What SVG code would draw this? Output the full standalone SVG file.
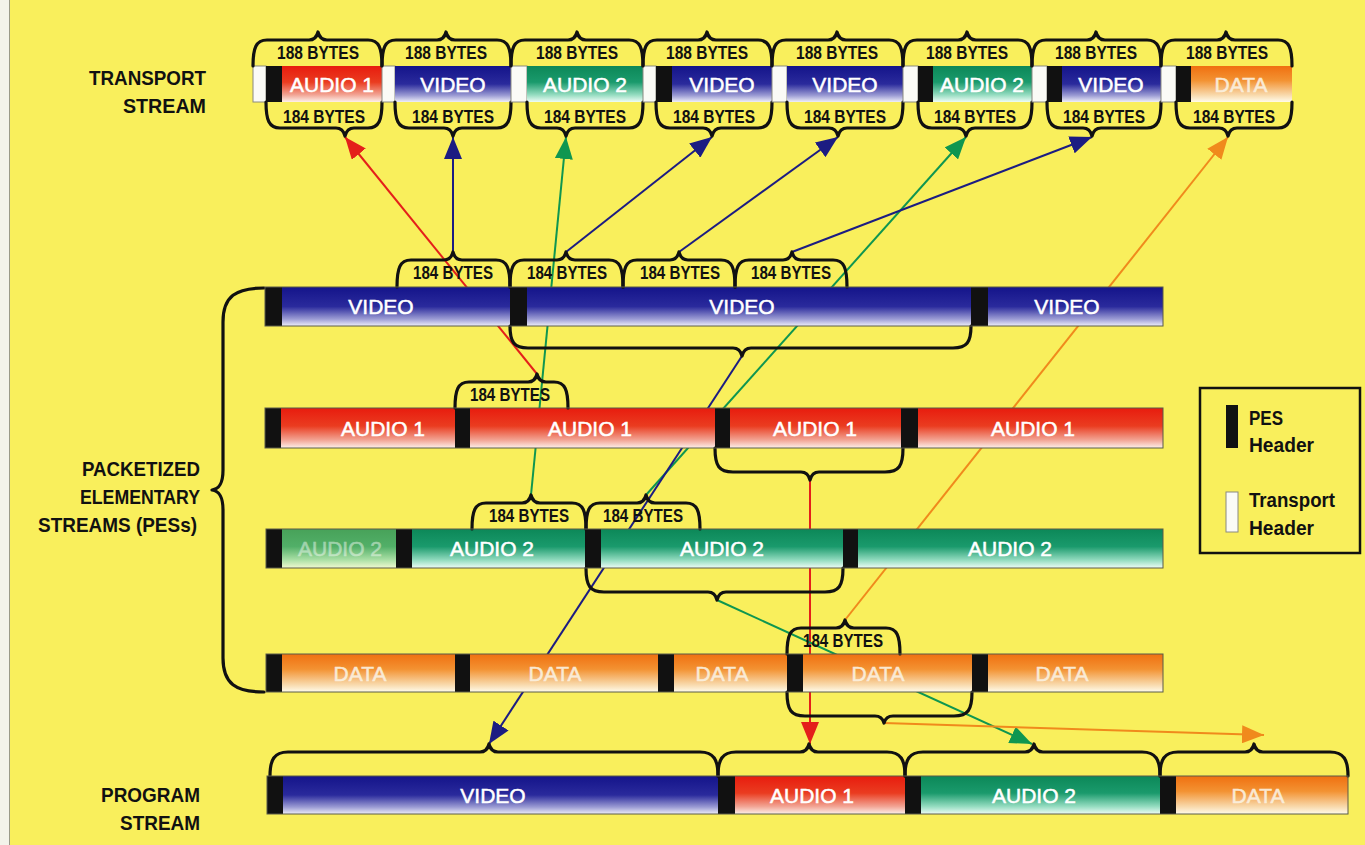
<svg xmlns="http://www.w3.org/2000/svg" width="1365" height="845" viewBox="0 0 1365 845">
<defs>
<linearGradient id="gV" x1="0" y1="0" x2="0" y2="1"><stop offset="0" stop-color="#14148a"/><stop offset="0.5" stop-color="#2a2a9c"/><stop offset="0.82" stop-color="#9c9cd4"/><stop offset="1" stop-color="#eeeef8"/></linearGradient>
<linearGradient id="gR" x1="0" y1="0" x2="0" y2="1"><stop offset="0" stop-color="#e81c0e"/><stop offset="0.45" stop-color="#ea3c20"/><stop offset="0.8" stop-color="#f2a494"/><stop offset="1" stop-color="#fdf0ea"/></linearGradient>
<linearGradient id="gG" x1="0" y1="0" x2="0" y2="1"><stop offset="0" stop-color="#0c8858"/><stop offset="0.45" stop-color="#1a9a6c"/><stop offset="0.8" stop-color="#94dcc0"/><stop offset="1" stop-color="#eefcf6"/></linearGradient>
<linearGradient id="gO" x1="0" y1="0" x2="0" y2="1"><stop offset="0" stop-color="#f07010"/><stop offset="0.4" stop-color="#f39232"/><stop offset="0.8" stop-color="#f8d8aa"/><stop offset="1" stop-color="#fffbea"/></linearGradient>
<marker id="mN" viewBox="0 0 10 10" refX="10" refY="5" markerWidth="22" markerHeight="18" markerUnits="userSpaceOnUse" orient="auto" preserveAspectRatio="none"><path d="M0,0 L10,5 L0,10 z" fill="#1c1c82"/></marker>
<marker id="mR" viewBox="0 0 10 10" refX="10" refY="5" markerWidth="22" markerHeight="18" markerUnits="userSpaceOnUse" orient="auto" preserveAspectRatio="none"><path d="M0,0 L10,5 L0,10 z" fill="#e4201a"/></marker>
<marker id="mG" viewBox="0 0 10 10" refX="10" refY="5" markerWidth="22" markerHeight="18" markerUnits="userSpaceOnUse" orient="auto" preserveAspectRatio="none"><path d="M0,0 L10,5 L0,10 z" fill="#0f9650"/></marker>
<marker id="mO" viewBox="0 0 10 10" refX="10" refY="5" markerWidth="22" markerHeight="18" markerUnits="userSpaceOnUse" orient="auto" preserveAspectRatio="none"><path d="M0,0 L10,5 L0,10 z" fill="#f08a1c"/></marker>
</defs>
<style>
.hdr{fill:#111}
.th{fill:#fbfbf6;stroke:#8a8a80;stroke-width:1}
.ol{fill:none;stroke:#5a5a48;stroke-width:1}
.v{fill:url(#gV)}.r{fill:url(#gR)}.g{fill:url(#gG)}.o{fill:url(#gO)}
.br{fill:none;stroke:#111;stroke-width:3.2;stroke-linejoin:round;stroke-linecap:round}
.in{font-family:"Liberation Sans",Arial,sans-serif;font-size:21px;fill:#fff;stroke:#fff;stroke-width:0.5;text-anchor:middle}
.dt{fill:#fbf2e2;stroke:#fbf2e2;opacity:0.9}
.bt{font-family:"Liberation Sans",Arial,sans-serif;font-weight:bold;font-size:18px;fill:#111;text-anchor:middle}
.lb{font-family:"Liberation Sans",Arial,sans-serif;font-weight:bold;font-size:21px;fill:#111;text-anchor:end}
.lg{font-family:"Liberation Sans",Arial,sans-serif;font-weight:bold;font-size:20px;fill:#111}
.cn{fill:none;stroke-width:2}
</style>
<rect x="0" y="0" width="1365" height="845" fill="#f9ef5c"/>
<rect x="0" y="0" width="9" height="845" fill="#f3f3ea"/>
<line x1="9.5" y1="0" x2="9.5" y2="845" stroke="#9a9a88" stroke-width="1"/>

<g id="connectors">
<path class="cn" stroke="#e4201a" d="M537,374 L345,137" marker-end="url(#mR)"/>
<path class="cn" stroke="#1c1c82" d="M453,252 L453,137" marker-end="url(#mN)"/>
<path class="cn" stroke="#0f9650" d="M531,495 L566,137" marker-end="url(#mG)"/>
<path class="cn" stroke="#1c1c82" d="M566,252 L712,137" marker-end="url(#mN)"/>
<path class="cn" stroke="#1c1c82" d="M679,252 L838,137" marker-end="url(#mN)"/>
<path class="cn" stroke="#0f9650" d="M646,495 L966,137" marker-end="url(#mG)"/>
<path class="cn" stroke="#1c1c82" d="M792,252 L1092,137" marker-end="url(#mN)"/>
<path class="cn" stroke="#f08a1c" d="M845,620 L1228,137" marker-end="url(#mO)"/>
<path class="cn" stroke="#1c1c82" d="M742,356 L489,744" marker-end="url(#mN)"/>
<path class="cn" stroke="#e4201a" d="M810,480 L810,744" marker-end="url(#mR)"/>
<path class="cn" stroke="#0f9650" d="M717,600 L1032,744" marker-end="url(#mG)"/>
<path class="cn" stroke="#f08a1c" d="M884,723 L1264,735" marker-end="url(#mO)"/>
</g>

<g id="labels">
<text class="lb" x="206" y="85" textLength="117" lengthAdjust="spacingAndGlyphs">TRANSPORT</text>
<text class="lb" x="206" y="113" textLength="83" lengthAdjust="spacingAndGlyphs">STREAM</text>
<text class="lb" x="200" y="476" textLength="118" lengthAdjust="spacingAndGlyphs">PACKETIZED</text>
<text class="lb" x="200" y="504" textLength="120" lengthAdjust="spacingAndGlyphs">ELEMENTARY</text>
<text class="lb" x="197" y="532" textLength="159" lengthAdjust="spacingAndGlyphs">STREAMS (PESs)</text>
<text class="lb" x="200" y="802" textLength="99" lengthAdjust="spacingAndGlyphs">PROGRAM</text>
<text class="lb" x="200" y="830" textLength="80" lengthAdjust="spacingAndGlyphs">STREAM</text>
<path class="br" stroke-width="4" d="M264 288 C236 288 223 296 223 322 L223 470 C223 484 219 489 212 490 C219 491 223 496 223 510 L223 658 C223 684 236 692 264 692"/>
</g>

<!-- TRANSPORT STREAM -->
<g id="ts1"><rect class="th" x="253" y="66" width="13" height="36"/><rect class="hdr" x="266" y="66" width="16" height="36"/><rect class="r" x="282" y="66" width="100" height="36"/><text class="in" x="332" y="91.5">AUDIO 1</text>
<path class="br" d="M253 66 C253 48 256 40 267 40 L309 40 Q316 40 318 32 Q320 40 327 40 L368 40 C379 40 382 48 382 66"/><text class="bt" x="318" y="59" textLength="82" lengthAdjust="spacingAndGlyphs">188 BYTES</text>
<path class="br" d="M266 102 C266 120 269 128 280 128 L336 128 Q343 128 345 136 Q347 128 354 128 L368 128 C379 128 382 120 382 102"/><text class="bt" x="324" y="123" textLength="82" lengthAdjust="spacingAndGlyphs">184 BYTES</text></g>
<g id="ts2"><rect class="th" x="382" y="66" width="13" height="36"/><rect class="v" x="395" y="66" width="116" height="36"/><text class="in" x="453" y="91.5">VIDEO</text>
<path class="br" d="M382 66 C382 48 385 40 396 40 L437 40 Q444 40 446 32 Q448 40 455 40 L497 40 C508 40 511 48 511 66"/><text class="bt" x="446" y="59" textLength="82" lengthAdjust="spacingAndGlyphs">188 BYTES</text>
<path class="br" d="M395 102 C395 120 398 128 409 128 L444 128 Q451 128 453 136 Q455 128 462 128 L497 128 C508 128 511 120 511 102"/><text class="bt" x="453" y="123" textLength="82" lengthAdjust="spacingAndGlyphs">184 BYTES</text></g>
<g id="ts3"><rect class="th" x="511" y="66" width="16" height="36"/><rect class="g" x="527" y="66" width="116" height="36"/><text class="in" x="585" y="91.5">AUDIO 2</text>
<path class="br" d="M511 66 C511 48 514 40 525 40 L568 40 Q575 40 577 32 Q579 40 586 40 L629 40 C640 40 643 48 643 66"/><text class="bt" x="577" y="59" textLength="82" lengthAdjust="spacingAndGlyphs">188 BYTES</text>
<path class="br" d="M527 102 C527 120 530 128 541 128 L557 128 Q564 128 566 136 Q568 128 575 128 L629 128 C640 128 643 120 643 102"/><text class="bt" x="585" y="123" textLength="82" lengthAdjust="spacingAndGlyphs">184 BYTES</text></g>
<g id="ts4"><rect class="th" x="643" y="66" width="13" height="36"/><rect class="hdr" x="656" y="66" width="16" height="36"/><rect class="v" x="672" y="66" width="100" height="36"/><text class="in" x="722" y="91.5">VIDEO</text>
<path class="br" d="M643 66 C643 48 646 40 657 40 L698 40 Q705 40 707 32 Q709 40 716 40 L758 40 C769 40 772 48 772 66"/><text class="bt" x="707" y="59" textLength="82" lengthAdjust="spacingAndGlyphs">188 BYTES</text>
<path class="br" d="M656 102 C656 120 659 128 670 128 L703 128 Q710 128 712 136 Q714 128 721 128 L758 128 C769 128 772 120 772 102"/><text class="bt" x="714" y="123" textLength="82" lengthAdjust="spacingAndGlyphs">184 BYTES</text></g>
<g id="ts5"><rect class="th" x="772" y="66" width="15" height="36"/><rect class="v" x="787" y="66" width="116" height="36"/><text class="in" x="845" y="91.5">VIDEO</text>
<path class="br" d="M772 66 C772 48 775 40 786 40 L828 40 Q835 40 837 32 Q839 40 846 40 L889 40 C900 40 903 48 903 66"/><text class="bt" x="837" y="59" textLength="82" lengthAdjust="spacingAndGlyphs">188 BYTES</text>
<path class="br" d="M787 102 C787 120 790 128 801 128 L829 128 Q836 128 838 136 Q840 128 847 128 L889 128 C900 128 903 120 903 102"/><text class="bt" x="845" y="123" textLength="82" lengthAdjust="spacingAndGlyphs">184 BYTES</text></g>
<g id="ts6"><rect class="th" x="903" y="66" width="15" height="36"/><rect class="hdr" x="918" y="66" width="15" height="36"/><rect class="g" x="933" y="66" width="99" height="36"/><text class="in" x="982" y="91.5">AUDIO 2</text>
<path class="br" d="M903 66 C903 48 906 40 917 40 L958 40 Q965 40 967 32 Q969 40 976 40 L1018 40 C1029 40 1032 48 1032 66"/><text class="bt" x="967" y="59" textLength="82" lengthAdjust="spacingAndGlyphs">188 BYTES</text>
<path class="br" d="M918 102 C918 120 921 128 932 128 L957 128 Q964 128 966 136 Q968 128 975 128 L1018 128 C1029 128 1032 120 1032 102"/><text class="bt" x="975" y="123" textLength="82" lengthAdjust="spacingAndGlyphs">184 BYTES</text></g>
<g id="ts7"><rect class="th" x="1032" y="66" width="15" height="36"/><rect class="hdr" x="1047" y="66" width="15" height="36"/><rect class="v" x="1062" y="66" width="99" height="36"/><text class="in" x="1111" y="91.5">VIDEO</text>
<path class="br" d="M1032 66 C1032 48 1035 40 1046 40 L1087 40 Q1094 40 1096 32 Q1098 40 1105 40 L1147 40 C1158 40 1161 48 1161 66"/><text class="bt" x="1096" y="59" textLength="82" lengthAdjust="spacingAndGlyphs">188 BYTES</text>
<path class="br" d="M1047 102 C1047 120 1050 128 1061 128 L1083 128 Q1090 128 1092 136 Q1094 128 1101 128 L1147 128 C1158 128 1161 120 1161 102"/><text class="bt" x="1104" y="123" textLength="82" lengthAdjust="spacingAndGlyphs">184 BYTES</text></g>
<g id="ts8"><rect class="th" x="1161" y="66" width="15" height="36"/><rect class="hdr" x="1176" y="66" width="15" height="36"/><rect class="o" x="1191" y="66" width="101" height="36"/><text class="in dt" x="1241" y="91.5">DATA</text>
<path class="br" d="M1161 66 C1161 48 1164 40 1175 40 L1217 40 Q1224 40 1226 32 Q1228 40 1235 40 L1278 40 C1289 40 1292 48 1292 66"/><text class="bt" x="1227" y="59" textLength="82" lengthAdjust="spacingAndGlyphs">188 BYTES</text>
<path class="br" d="M1176 102 C1176 120 1179 128 1190 128 L1219 128 Q1226 128 1228 136 Q1230 128 1237 128 L1278 128 C1289 128 1292 120 1292 102"/><text class="bt" x="1234" y="123" textLength="82" lengthAdjust="spacingAndGlyphs">184 BYTES</text></g>

<!-- PES VIDEO -->
<g id="pv1"><rect class="hdr" x="265" y="287" width="17" height="39"/><rect class="v" x="282" y="287" width="228" height="39"/><text class="in" x="381" y="314">VIDEO</text></g>
<g id="pv2"><rect class="hdr" x="510" y="287" width="17" height="39"/><rect class="v" x="527" y="287" width="444" height="39"/><text class="in" x="742" y="314">VIDEO</text>
<path class="br" d="M397 287 C397 268 400 260 411 260 L444 260 Q451 260 453 252 Q455 260 462 260 L496 260 C507 260 510 268 510 287"/><text class="bt" x="453" y="279" textLength="80" lengthAdjust="spacingAndGlyphs">184 BYTES</text>
<path class="br" d="M510 287 C510 268 513 260 524 260 L557 260 Q564 260 566 252 Q568 260 575 260 L609 260 C620 260 623 268 623 287"/><text class="bt" x="567" y="279" textLength="80" lengthAdjust="spacingAndGlyphs">184 BYTES</text>
<path class="br" d="M623 287 C623 268 626 260 637 260 L670 260 Q677 260 679 252 Q681 260 688 260 L721 260 C732 260 735 268 735 287"/><text class="bt" x="680" y="279" textLength="80" lengthAdjust="spacingAndGlyphs">184 BYTES</text>
<path class="br" d="M735 287 C735 268 738 260 749 260 L783 260 Q790 260 792 252 Q794 260 801 260 L833 260 C844 260 847 268 847 287"/><text class="bt" x="791" y="279" textLength="80" lengthAdjust="spacingAndGlyphs">184 BYTES</text>
<path class="br" d="M510 326 C510 342 514 348 528 348 L733 348 Q740 348 742 356 Q744 348 751 348 L953 348 C967 348 971 342 971 326"/></g>
<g id="pv3"><rect class="hdr" x="971" y="287" width="17" height="39"/><rect class="v" x="988" y="287" width="175" height="39"/><text class="in" x="1067" y="314">VIDEO</text></g>
<rect class="ol" x="265" y="287" width="898" height="39"/>

<!-- PES AUDIO 1 -->
<g id="pa1"><rect class="hdr" x="265" y="408" width="16" height="40"/><rect class="r" x="281" y="408" width="174" height="40"/><text class="in" x="383" y="435.5">AUDIO 1</text></g>
<g id="pa2"><rect class="hdr" x="455" y="408" width="15" height="40"/><rect class="r" x="470" y="408" width="245" height="40"/><text class="in" x="590" y="435.5">AUDIO 1</text>
<path class="br" d="M455 408 C455 390 458 382 469 382 L528 382 Q535 382 537 374 Q539 382 546 382 L554 382 C565 382 568 390 568 408"/><text class="bt" x="510" y="401" textLength="80" lengthAdjust="spacingAndGlyphs">184 BYTES</text></g>
<g id="pa3"><rect class="hdr" x="715" y="408" width="15" height="40"/><rect class="r" x="730" y="408" width="171" height="40"/><text class="in" x="815" y="435.5">AUDIO 1</text>
<path class="br" d="M715 448 C715 466 719 472 733 472 L801 472 Q808 472 810 480 Q812 472 819 472 L885 472 C899 472 903 466 903 448"/></g>
<g id="pa4"><rect class="hdr" x="901" y="408" width="17" height="40"/><rect class="r" x="918" y="408" width="245" height="40"/><text class="in" x="1033" y="435.5">AUDIO 1</text></g>
<rect class="ol" x="265" y="408" width="898" height="40"/>

<!-- PES AUDIO 2 -->
<g id="pg1"><rect class="hdr" x="266" y="529" width="16" height="39"/><rect class="g" x="282" y="529" width="114" height="39" opacity="0.75"/><text class="in" x="340" y="556" opacity="0.45">AUDIO 2</text></g>
<g id="pg2"><rect class="hdr" x="396" y="529" width="16" height="39"/><rect class="g" x="412" y="529" width="173" height="39"/><text class="in" x="492" y="556">AUDIO 2</text>
<path class="br" d="M472 529 C472 511 475 503 486 503 L522 503 Q529 503 531 495 Q533 503 540 503 L572 503 C583 503 586 511 586 529"/><text class="bt" x="529" y="522" textLength="80" lengthAdjust="spacingAndGlyphs">184 BYTES</text></g>
<g id="pg3"><rect class="hdr" x="585" y="529" width="16" height="39"/><rect class="g" x="601" y="529" width="242" height="39"/><text class="in" x="722" y="556">AUDIO 2</text>
<path class="br" d="M586 529 C586 511 589 503 600 503 L637 503 Q644 503 646 495 Q648 503 655 503 L686 503 C697 503 700 511 700 529"/><text class="bt" x="643" y="522" textLength="80" lengthAdjust="spacingAndGlyphs">184 BYTES</text>
<path class="br" d="M586 568 C586 586 590 592 604 592 L708 592 Q715 592 717 600 Q719 592 726 592 L825 592 C839 592 843 586 843 568"/></g>
<g id="pg4"><rect class="hdr" x="843" y="529" width="15" height="39"/><rect class="g" x="858" y="529" width="305" height="39"/><text class="in" x="1010" y="556">AUDIO 2</text></g>
<rect class="ol" x="266" y="529" width="897" height="39"/>

<!-- PES DATA -->
<g id="pd1"><rect class="hdr" x="266" y="654" width="16" height="38"/><rect class="o" x="282" y="654" width="173" height="38"/><text class="in dt" x="360" y="680.5">DATA</text></g>
<g id="pd2"><rect class="hdr" x="455" y="654" width="15" height="38"/><rect class="o" x="470" y="654" width="188" height="38"/><text class="in dt" x="555" y="680.5">DATA</text></g>
<g id="pd3"><rect class="hdr" x="658" y="654" width="16" height="38"/><rect class="o" x="674" y="654" width="113" height="38"/><text class="in dt" x="722" y="680.5">DATA</text></g>
<g id="pd4"><rect class="hdr" x="787" y="654" width="16" height="38"/><rect class="o" x="803" y="654" width="169" height="38"/><text class="in dt" x="878" y="680.5">DATA</text>
<path class="br" d="M787 654 C787 636 790 628 801 628 L836 628 Q843 628 845 620 Q847 628 854 628 L886 628 C897 628 900 636 900 654"/><text class="bt" x="843" y="647" textLength="80" lengthAdjust="spacingAndGlyphs">184 BYTES</text>
<path class="br" d="M787 692 C787 710 791 716 805 716 L875 716 Q882 716 884 723 Q886 716 893 716 L954 716 C968 716 972 710 972 692"/></g>
<g id="pd5"><rect class="hdr" x="972" y="654" width="16" height="38"/><rect class="o" x="988" y="654" width="175" height="38"/><text class="in dt" x="1062" y="680.5">DATA</text></g>
<rect class="ol" x="266" y="654" width="897" height="38"/>

<!-- PROGRAM STREAM -->
<g id="ps1"><rect class="hdr" x="267" y="776" width="16" height="38"/><rect class="v" x="283" y="776" width="435" height="38"/><text class="in" x="493" y="802.5">VIDEO</text>
<path class="br" d="M270 776 C270 760 274 752 288 752 L480 752 Q487 752 489 744 Q491 752 498 752 L700 752 C714 752 718 760 718 776"/></g>
<g id="ps2"><rect class="hdr" x="718" y="776" width="17" height="38"/><rect class="r" x="735" y="776" width="170" height="38"/><text class="in" x="812" y="802.5">AUDIO 1</text>
<path class="br" d="M718 776 C718 760 722 752 736 752 L800 752 Q807 752 809 744 Q811 752 818 752 L887 752 C901 752 905 760 905 776"/></g>
<g id="ps3"><rect class="hdr" x="905" y="776" width="16" height="38"/><rect class="g" x="921" y="776" width="239" height="38"/><text class="in" x="1034" y="802.5">AUDIO 2</text>
<path class="br" d="M905 776 C905 760 909 752 923 752 L1025 752 Q1032 752 1034 744 Q1036 752 1043 752 L1142 752 C1156 752 1160 760 1160 776"/></g>
<g id="ps4"><rect class="hdr" x="1160" y="776" width="16" height="38"/><rect class="o" x="1176" y="776" width="172" height="38"/><text class="in dt" x="1258" y="802.5">DATA</text>
<path class="br" d="M1160 776 C1160 760 1164 752 1178 752 L1245 752 Q1252 752 1254 744 Q1256 752 1263 752 L1330 752 C1344 752 1348 760 1348 776"/></g>
<rect class="ol" x="267" y="776" width="1081" height="38"/>

<!-- LEGEND -->
<g id="legend">
<rect x="1200" y="388" width="160" height="165" fill="none" stroke="#111" stroke-width="2.5"/>
<rect class="hdr" x="1226" y="405" width="12" height="43"/>
<text class="lg" x="1249" y="425" textLength="34" lengthAdjust="spacingAndGlyphs">PES</text>
<text class="lg" x="1249" y="452" textLength="65" lengthAdjust="spacingAndGlyphs">Header</text>
<rect class="th" x="1226" y="492" width="12" height="40"/>
<text class="lg" x="1249" y="507" textLength="86" lengthAdjust="spacingAndGlyphs">Transport</text>
<text class="lg" x="1249" y="535" textLength="65" lengthAdjust="spacingAndGlyphs">Header</text>
</g>
</svg>
